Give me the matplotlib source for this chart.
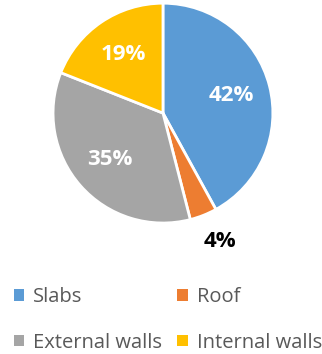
import numpy as np
import matplotlib
matplotlib.use('Agg')
import matplotlib.pyplot as plt
from matplotlib.patches import Patch

plt.rcParams['font.family'] = ['Open Sans', 'DejaVu Sans']

labels = ['Slabs', 'Roof', 'External walls', 'Internal walls']
shares = [42, 4, 35, 19]
colors = ['#5B9BD5', '#ED7D31', '#A5A5A5', '#FFC000']

fig = plt.figure(figsize=(3.22, 3.54), dpi=100)
ax = fig.add_axes([0.1646, 0.370, 0.683, 0.621])

wedges, texts, autotexts = ax.pie(
    shares, colors=colors, startangle=90, counterclock=False,
    autopct='%d%%', pctdistance=0.64,
    wedgeprops=dict(edgecolor='white', linewidth=2),
    textprops=dict(color='white', fontsize=16, fontweight='bold'))
ax.set_xlim(-1, 1)
ax.set_ylim(-1, 1)
ax.set_aspect('equal')

# small slice: label outside in black
for w, t, s in zip(wedges, autotexts, shares):
    if s < 10:
        ang = np.deg2rad((w.theta1 + w.theta2) / 2 + 2.5)
        t.set_position((1.28 * np.cos(ang), 1.28 * np.sin(ang)))
        t.set_color('black')

# legend reads row by row: Slabs, Roof / External walls, Internal walls
handles = [Patch(facecolor=c, edgecolor='none') for c in colors]
order = [0, 2, 1, 3]
fig.legend([handles[i] for i in order], [labels[i] for i in order],
           loc='lower left', bbox_to_anchor=(-0.012, -0.047),
           ncol=2, frameon=False, fontsize=14.5, labelcolor='#595959',
           handlelength=0.5, handleheight=0.5, handletextpad=0.45,
           columnspacing=0.75, labelspacing=1.25)

fig.savefig('out.png', dpi=100)
